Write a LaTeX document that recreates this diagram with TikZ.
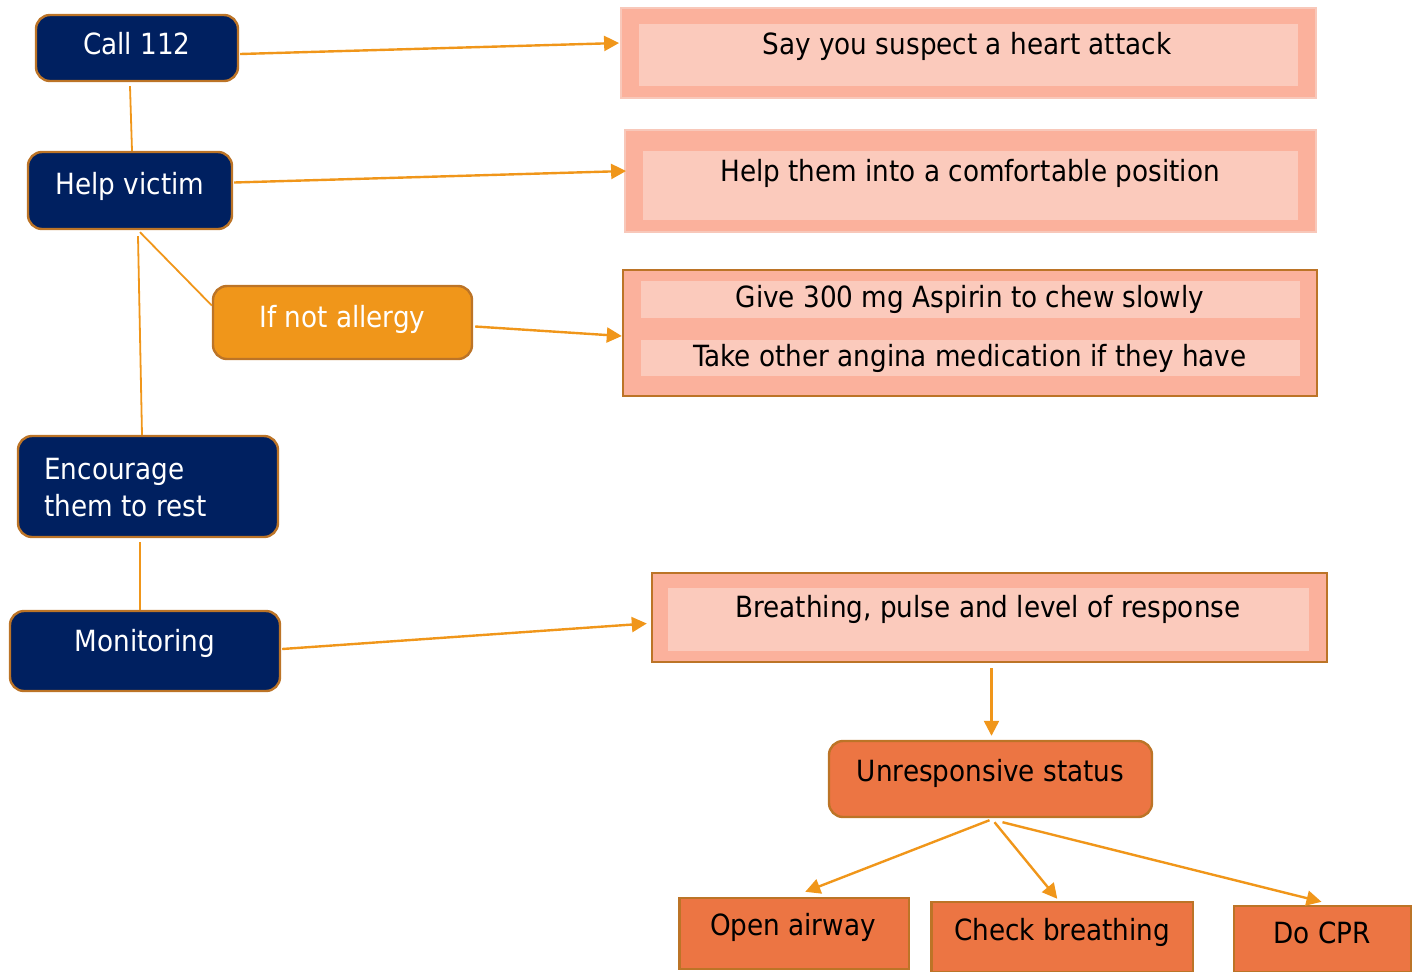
\documentclass[tikz,border=0pt]{standalone}
\usepackage{fontspec}
\setmainfont{DejaVu Sans Condensed}
\usetikzlibrary{arrows.meta,calc}
\definecolor{navy}{HTML}{002060}
\definecolor{brd}{HTML}{BC7427}
\definecolor{org}{HTML}{F0961A}
\definecolor{salout}{HTML}{FBB19C}
\definecolor{salin}{HTML}{FBCABC}
\definecolor{sallite}{HTML}{F8C8BA}
\definecolor{redorg}{HTML}{EC7543}
\tikzset{
  sz/.style 2 args={minimum width=#1*0.5pt, minimum height=#2*0.5pt},
  navybox/.style={draw=brd, line width=1.2pt, fill=navy, rounded corners=7pt, inner sep=0pt},
  orgbox/.style={draw=brd, line width=1.2pt, fill=org, rounded corners=7pt, inner sep=0pt},
  unrbox/.style={draw=brd, line width=1.2pt, fill=redorg, rounded corners=7pt, inner sep=0pt},
  actbox/.style={draw=brd, line width=1.2pt, fill=redorg, inner sep=0pt},
  outlite/.style={draw=sallite, line width=0.9pt, fill=salout, inner sep=0pt},
  outbrd/.style={draw=brd, line width=1.2pt, fill=salout, inner sep=0pt},
  inbox/.style={fill=salin, inner sep=0pt},
  wtxt/.style={text=white, anchor=base, inner sep=0pt, font=\fontsize{14.6}{17}\selectfont},
  btxt/.style={text=black, anchor=base, inner sep=0pt, font=\fontsize{14.6}{17}\selectfont},
  conn/.style={draw=org, line width=1.2pt, -{Triangle[length=7.5pt,width=7.5pt]}},
  ln/.style={draw=org, line width=0.9pt}
}
\begin{document}
\begin{tikzpicture}[x=0.5pt,y=-0.5pt]
\useasboundingbox (0,0) rectangle (1415,971);
% left column
\node[navybox, sz={202}{66}] (call) at (137,48) {};
\node[wtxt] (callt) at (137,54) {Call 112};
\node[navybox, sz={204}{77}] (help) at (130,190.5) {};
\node[wtxt] (helpt) at (130,194) {Help victim};
\node[orgbox, sz={259}{73}] (ifnot) at (342.5,322.5) {};
\node[wtxt] (ifnott) at (342.5,327) {If not allergy};
\node[navybox, sz={260}{101}] (enc) at (148,486.5) {};
\node[wtxt, anchor=base west] (enct1) at (44,479) {Encourage};
\node[wtxt, anchor=base west] (enct2) at (44,516) {them to rest};
\node[navybox, sz={270}{80}] (mon) at (145,651) {};
\node[wtxt] (mont) at (145,651) {Monitoring};
% right boxes
\node[outlite, sz={695}{90}] (b1) at (968.5,53) {};
\node[inbox, sz={659}{62}] (b1in) at (968.5,55) {};
\node[btxt] (b1t) at (967,54) {Say you suspect a heart attack};
\node[outlite, sz={691}{102}] (b2) at (970.5,181) {};
\node[inbox, sz={655}{69}] (b2in) at (970.5,185.5) {};
\node[btxt] (b2t) at (970,181) {Help them into a comfortable position};
\node[outbrd, sz={694}{126}] (b3) at (970,333) {};
\node[inbox, sz={659.5}{37}] (b3r1) at (970.25,299.5) {};
\node[inbox, sz={659.5}{36}] (b3r2) at (970.25,358) {};
\node[btxt] (b3t1) at (970,307) {Give 300 mg Aspirin to chew slowly};
\node[btxt] (b3t2) at (970,366) {Take other angina medication if they have};
\node[outbrd, sz={675}{89}] (b4) at (989.5,617.5) {};
\node[inbox, sz={641.4}{63}] (b4in) at (988.3,619.5) {};
\node[btxt] (b4t) at (988,617) {Breathing, pulse and level of response};
% bottom
\node[unrbox, sz={323}{76}] (unr) at (990.5,779) {};
\node[btxt] (unrt) at (990.5,781) {Unresponsive status};
\node[actbox, sz={229.5}{71}] (open) at (794.25,933.5) {};
\node[btxt] (opent) at (793,935) {Open airway};
\node[actbox, sz={261.4}{70}] (check) at (1062.3,937) {};
\node[btxt] (checkt) at (1062,940) {Check breathing};
\node[actbox, sz={177}{66}] (cpr) at (1322.5,939) {};
\node[btxt] (cprt) at (1322,943) {Do CPR};
% connectors
\draw[conn] ($(call.east)+(1,6)$) -- ($(b1.west)+(-1,-10)$);
\draw[ln] ($(call.south)+(-7,4)$) -- ($(help.north)+(2,0)$);
\draw[conn] ($(help.east)+(1,-8)$) -- ($(b2.west)+(2,-10)$);
\draw[ln] ($(help.south)+(10,2)$) -- ($(ifnot.west)+(0,-17)$);
\draw[ln] ($(help.south)+(8,6)$) -- ($(enc.north)+(-6,0)$);
\draw[conn] ($(ifnot.east)+(2,4)$) -- ($(b3.west)+(0,3)$);
\draw[ln] ($(enc.south)+(-8,4)$) -- ($(mon.north)+(-5,0)$);
\draw[conn] ($(mon.east)+(1,-2)$) -- ($(b4.west)+(-4,6)$);
\draw[conn] ($(b4.south)+(2,5)$) -- ($(unr.north)+(1,-4)$);
\draw[conn] ($(unr.south)+(-1,2)$) -- ($(open.north)+(11,-5)$);
\draw[conn] ($(unr.south)+(4,4)$) -- ($(check.north)+(-5,-2)$);
\draw[conn] ($(unr.south)+(12,4)$) -- ($(cpr.north)+(-1,-3)$);
\end{tikzpicture}
\end{document}
